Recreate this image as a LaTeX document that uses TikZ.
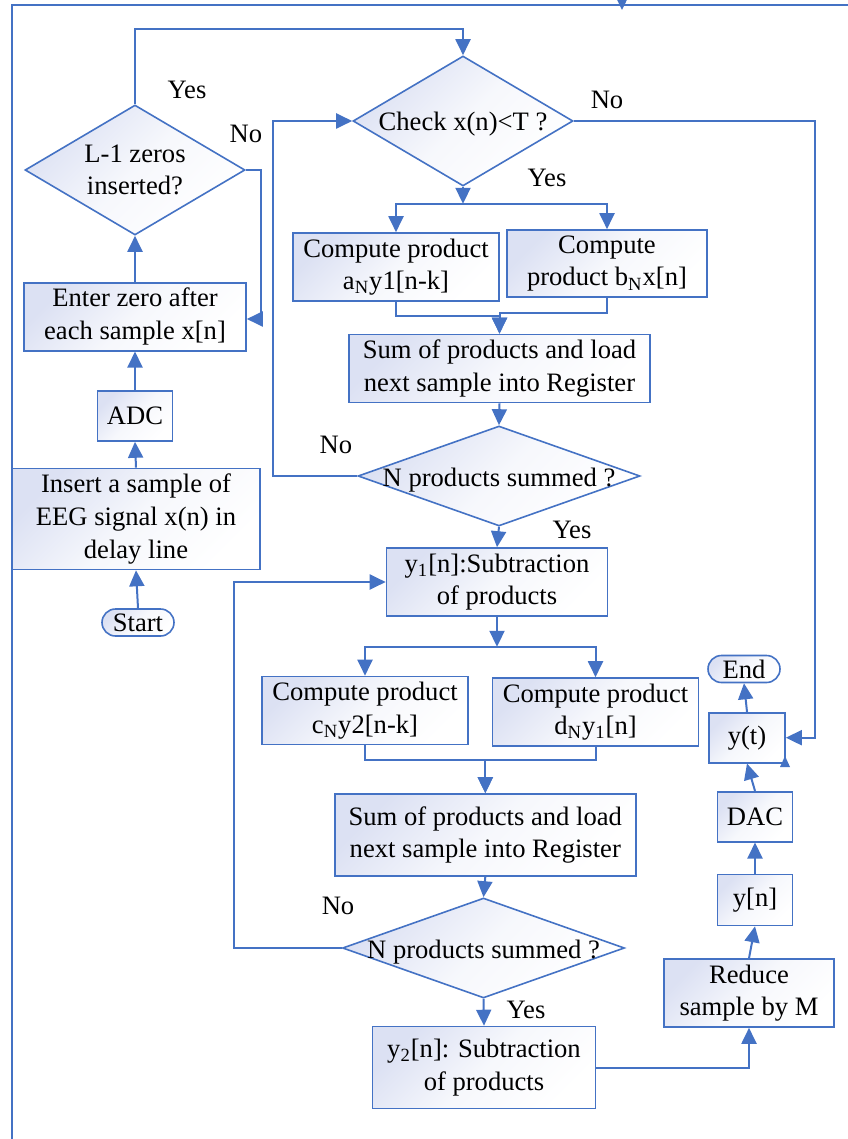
\documentclass[tikz,border=0pt]{standalone}
\usepackage{fontspec}
\setmainfont{Liberation Serif}
\usepackage{tikz}
\usetikzlibrary{arrows.meta,shapes.geometric,shapes.misc}
\definecolor{flowblue}{HTML}{4472C4}
\definecolor{flowfill}{HTML}{DCE1F3}

\tikzset{
  box/.style={draw=flowblue,line width=0.8pt,top color=flowfill,bottom color=white,
    middle color=white!75!flowfill,shading angle=45,inner sep=0pt,align=center},
  decide/.style={box,diamond,minimum width=110pt,minimum height=65pt},
  wide decide/.style={box,diamond,minimum width=141pt,minimum height=50pt},
  term/.style={box,rounded rectangle,minimum width=36pt,minimum height=13.5pt},
  flow/.style={draw=flowblue,line width=1pt,-{Triangle[length=8pt,width=7.5pt]}},
  tag/.style={inner sep=0pt},
}

\begin{document}
\begin{tikzpicture}[x=0.5pt,y=-0.5pt,font=\fontsize{13.3}{16.3}\selectfont]
  \useasboundingbox (0,0) rectangle (847,1139);
  \coordinate (frametl) at (12,5);
  \draw[flowblue,line width=1pt] (12,1150) -- (frametl) -- (860,5);
  \draw[flow] (622,-12) -- (622,10);

  % left column
  \node[term] (start) at (138,622.5) {Start};
  \node[box,minimum width=124pt,minimum height=50.5pt] (insert) at (136,519)
    {Insert a sample of\\EEG signal x(n) in\\delay line};
  \node[box,minimum width=37.5pt,minimum height=25pt] (adc) at (135,416) {ADC};
  \node[box,minimum width=111pt,minimum height=34pt] (enterz) at (135,316.7)
    {Enter zero after\\each sample x[n]};
  \node[decide,label={[align=center]center:L-1 zeros\\inserted?}] (zeroq) at (135,170) {};

  % first stage
  \node[decide,label={[yshift=-1.5pt]center:Check x(n)<T ?}] (checkq) at (463,121) {};
  \node[box,minimum width=103pt,minimum height=34pt] (proda) at (396,267)
    {Compute product\\a\textsubscript{N}y1[n-k]};
  \node[box,minimum width=100pt,minimum height=33.5pt] (prodb) at (607,263.5)
    {Compute\\product b\textsubscript{N}x[n]};
  \node[box,minimum width=150.5pt,minimum height=34pt] (sum1) at (499.5,368.5)
    {Sum of products and load\\next sample into Register};
  \node[wide decide,label={[yshift=-2pt]center:N products summed ?}] (sumq1) at (499,476) {};
  \node[box,minimum width=110.5pt,minimum height=34pt] (y1box) at (497,582)
    {y\textsubscript{1}[n]:Subtraction\\of products};

  % second stage
  \node[box,minimum width=103pt,minimum height=34pt] (prodc) at (365,710.5)
    {Compute product\\c\textsubscript{N}y2[n-k]};
  \node[box,minimum width=103pt,minimum height=34pt] (prodd) at (595.5,712)
    {Compute product\\d\textsubscript{N}y\textsubscript{1}[n]};
  \node[box,minimum width=150.5pt,minimum height=41pt] (sum2) at (485.3,835)
    {Sum of products and load\\next sample into Register};
  \node[wide decide,label={[yshift=-2pt]center:N products summed ?}] (sumq2) at (483.5,948) {};
  \node[box,minimum width=111.5pt,minimum height=41pt] (y2box) at (484,1067.5)
    {y\textsubscript{2}[n]: Subtraction\\of products};

  % output column
  \node[box,minimum width=85pt,minimum height=34pt] (reduce) at (749,993)
    {Reduce\\sample by M};
  \node[box,minimum width=37.5pt,minimum height=25.5pt] (yn) at (755,900) {y[n]};
  \node[box,minimum width=37.5pt,minimum height=25pt] (dac) at (755,816.7) {DAC};
  \node[box,minimum width=38pt,minimum height=25pt] (yt) at (747,737.7) {y(t)};
  \node[term] (endt) at (744,669) {End};

  \node[tag] (yes1) at (187,90) {Yes};
  \node[tag] (no1) at (246,134) {No};
  \node[tag] (no2) at (607,100) {No};
  \node[tag] (yes2) at (547,178) {Yes};
  \node[tag] (no3) at (336,445) {No};
  \node[tag] (yes3) at (572,530) {Yes};
  \node[tag] (no4) at (338,906) {No};
  \node[tag] (yes4) at (526,1010) {Yes};

  \draw[flow] (start.north) -- (insert.south);
  \draw[flow] (insert.north) -- (adc.south);
  \draw[flow] (adc.north) -- (enterz.south);
  \draw[flow] (enterz.north) -- (zeroq.south);
  \draw[flow] (zeroq.east) -- ++(15,0) |- ([yshift=-1.15pt]enterz.east);
  \draw[flow] (zeroq.north) -- ++(0,-75) -| (checkq.north);

  \draw[flow] (checkq.east) -- ++(241,0) |- (yt.east);
  \draw[flow] (checkq.south) -- ++(0,17) coordinate (split1);
  \draw[flow] (split1) -| (proda.north);
  \draw[flow] (split1) -| (prodb.north);
  \draw[flow] (proda.south) -- ++(0,14) -| (sum1.north);
  \draw[flow] (prodb.south) -- ++(0,15) -| (sum1.north);
  \draw[flow] (sum1.south) -- (sumq1.north);
  \draw[flow] (sumq1.west) -- ++(-84.5,0) |- (checkq.west);
  \draw[flow] (sumq1.south) -- (y1box.north);

  \draw[flow] (y1box.south) -- ++(0,30) coordinate (split2);
  \draw[flow] (split2) -| (prodc.north);
  \draw[flow] (split2) -| (prodd.north);
  \draw[flow] (prodc.south) -- ++(0,14.5) -| (sum2.north);
  \draw[flow] (prodd.south) -- ++(0,13) -| (sum2.north);
  \draw[flow] (sum2.south) -- (sumq2.north);
  \draw[flow] (sumq2.west) -- ++(-107.5,0) |- (y1box.west);
  \draw[flow] (sumq2.south) -- (y2box.north);

  \draw[flow] (y2box.east) -| (reduce.south);
  \draw[flow] (reduce.north) -- (yn.south);
  \draw[flow] (yn.north) -- (dac.south);
  \draw[flow] (dac.north) -- (yt.south);
  \draw[flow] (yt.north) -- (endt.south);
  \fill[flowblue] (780,767) -- (790,767) -- (785,756) -- cycle;
\end{tikzpicture}
\end{document}
